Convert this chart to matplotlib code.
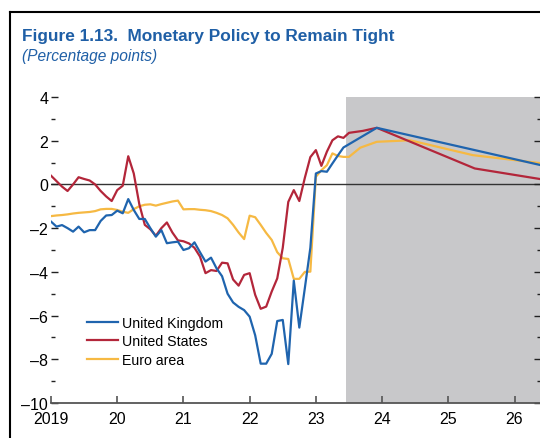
import numpy as np
import matplotlib.pyplot as plt
from matplotlib.ticker import MultipleLocator, FuncFormatter

plt.rcParams['font.family'] = ['Liberation Sans Narrow', 'Liberation Sans', 'DejaVu Sans']

# monthly history, Jan 2019 onwards
uk_hist = [-1.70, -1.93, -1.86, -2.00, -2.16, -1.93, -2.19, -2.09, -2.09, -1.67, -1.42, -1.40,
           -1.20, -1.32, -0.67, -1.17, -1.58, -1.58, -2.00, -2.39, -2.09, -2.69, -2.65, -2.62,
           -3.00, -2.92, -2.65, -3.10, -3.53, -3.35, -3.84, -4.20, -5.00, -5.40, -5.60, -5.75,
           -6.05, -6.90, -8.20, -8.20, -7.75, -6.25, -6.20, -8.22, -4.40, -6.55, -4.75, -2.90,
           0.50, 0.61, 0.58, 0.96, 1.33, 1.69]
us_hist = [0.40, 0.15, -0.10, -0.30, 0.00, 0.33, 0.25, 0.18, 0.00, -0.30, -0.55, -0.76,
           -0.26, -0.06, 1.29, 0.50, -0.90, -1.85, -2.05, -2.35, -2.00, -1.74, -2.20, -2.56,
           -2.60, -2.70, -2.90, -3.30, -4.06, -3.92, -3.96, -3.58, -3.61, -4.35, -4.63, -4.14,
           -4.06, -5.05, -5.69, -5.59, -4.90, -4.30, -2.90, -0.80, -0.26, -0.76, 0.30, 1.25,
           1.57, 0.85, 1.50, 2.02, 2.20, 2.13, 2.36]
ea_hist = [-1.45, -1.42, -1.40, -1.37, -1.33, -1.30, -1.28, -1.26, -1.22, -1.14, -1.12, -1.12,
           -1.17, -1.25, -1.30, -1.13, -1.00, -0.93, -0.91, -0.97, -0.90, -0.84, -0.78, -0.74,
           -1.14, -1.13, -1.13, -1.16, -1.18, -1.22, -1.30, -1.40, -1.55, -1.85, -2.20, -2.50,
           -1.43, -1.50, -1.85, -2.22, -2.54, -3.10, -3.38, -3.41, -4.32, -4.32, -4.00, -3.99,
           0.35, 0.65, 0.88, 1.42, 1.30, 1.26, 1.26]

# projections
uk_proj_t = [2023.92, 2025.40, 2026.40]
uk_proj = [2.59, 1.57, 0.88]
us_proj_t = [2023.71, 2023.92, 2025.40, 2026.40]
us_proj = [2.45, 2.59, 0.73, 0.24]
ea_proj_t = [2023.67, 2023.92, 2024.42, 2025.37, 2026.40]
ea_proj = [1.68, 1.95, 2.02, 1.34, 0.97]

proj_start = 2023.46
year_ticks = [2019, 2020, 2021, 2022, 2023, 2024, 2025, 2026]
year_labels = ['2019', '20', '21', '22', '23', '24', '25', '26']

blue = '#1f64ae'
red = '#b3263a'
yellow = '#f6b943'
title_blue = '#1f5fa6'


def series(hist, proj_t, proj):
    t = list(2019 + np.arange(len(hist)) / 12)
    return t + proj_t, hist + proj


fig = plt.figure(figsize=(5.4, 4.39), dpi=100)
ax = fig.add_axes([51 / 540, 35 / 439, 490 / 540, 306 / 439])

ax.axvspan(proj_start, 2027, color='#c8c8ca', lw=0, zorder=0)
ax.axhline(0, color='#333333', lw=1.0, zorder=1)

t, v = series(uk_hist, uk_proj_t, uk_proj)
ax.plot(t, v, color=blue, lw=1.6, label='United Kingdom', zorder=4)
t, v = series(us_hist, us_proj_t, us_proj)
ax.plot(t, v, color=red, lw=1.6, label='United States', zorder=3)
t, v = series(ea_hist, ea_proj_t, ea_proj)
ax.plot(t, v, color=yellow, lw=1.6, label='Euro area', zorder=2)

ax.set_xlim(2019, 2026.4)
ax.set_ylim(-10, 4)

for s in ['left', 'top', 'right']:
    ax.spines[s].set_visible(False)
ax.spines['bottom'].set_color('#555555')
ax.spines['bottom'].set_linewidth(1.3)

ax.set_xticks(year_ticks)
ax.set_xticklabels(year_labels)
ax.yaxis.set_major_locator(MultipleLocator(2))
ax.yaxis.set_minor_locator(MultipleLocator(1))
ax.yaxis.set_major_formatter(FuncFormatter(lambda y, p: ('\u2013%d' % -y) if y < 0 else '%d' % y))

ax.tick_params(axis='x', direction='in', length=5, width=1.2, color='#555555',
               labelsize=11.5, pad=6)
ax.tick_params(axis='y', which='major', direction='in', length=5, width=1.0, color='#222222',
               labelsize=11.5, pad=2, right=True)
ax.tick_params(axis='y', which='minor', direction='in', length=3, width=1.0, color='#222222',
               right=True)

ax.legend(loc='upper left', bbox_to_anchor=(0.073, 0.284), frameon=False, fontsize=10.2,
          handlelength=2.2, handletextpad=0.3, labelspacing=0.3, borderpad=0, borderaxespad=0)

fig.text(22 / 540, 1 - 37 / 439, 'Figure 1.13.  Monetary Policy to Remain Tight', color=title_blue,
         fontsize=12.4, fontweight='bold', va='center', ha='left')
fig.text(22 / 540, 1 - 57 / 439, '(Percentage points)', color=title_blue,
         fontsize=11.2, style='italic', va='center', ha='left')

# frame
fig.add_artist(plt.Line2D([10 / 540, 10 / 540], [0, 1 - 13 / 439], color='black', lw=1.5))
fig.add_artist(plt.Line2D([10 / 540, 1], [1 - 13 / 439, 1 - 13 / 439], color='black', lw=1.5))

fig.savefig('out.png', dpi=100)
